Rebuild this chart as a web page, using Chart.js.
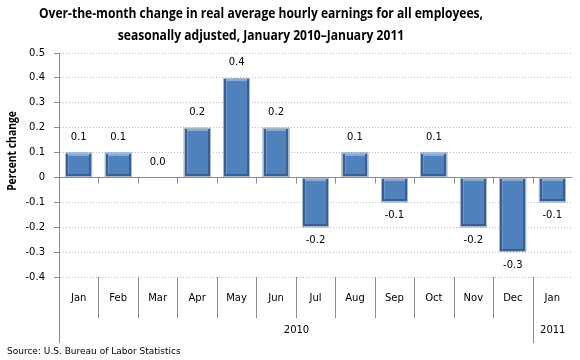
<!DOCTYPE html>
<html>
<head>
<meta charset="utf-8">
<script src="https://cdn.jsdelivr.net/npm/chart.js@4/dist/chart.umd.min.js"></script>
<style>
  body { margin: 0; background: #fff; }
  #wrap { width: 580px; height: 360px; }
</style>
</head>
<body>
<div id="wrap"><canvas id="earningsChart"></canvas></div>
<script>
const months = ['Jan', 'Feb', 'Mar', 'Apr', 'May', 'Jun', 'Jul', 'Aug', 'Sep', 'Oct', 'Nov', 'Dec', 'Jan'];
const years = [{ label: '2010', from: 0, to: 11 }, { label: '2011', from: 12, to: 12 }];
const changes = [0.1, 0.1, 0.0, 0.2, 0.4, 0.2, -0.2, 0.1, -0.1, 0.1, -0.2, -0.3, -0.1];
const titleLines = ['Over-the-month change in real average hourly earnings for all employees,', 'seasonally adjusted, January 2010\u2013January 2011'];
const sourceText = 'Source: U.S. Bureau of Labor Statistics';

const tickFont = { family: 'DejaVu Sans', size: 10 };

// draw text squeezed to a narrower face (the original uses Calibri)
function narrowText(ctx, text, cx, cy, squeeze) {
    ctx.save();
    ctx.translate(cx, cy);
    ctx.scale(squeeze, 1);
    ctx.fillText(text, 0, 0);
    ctx.restore();
}

// bevelled bar look
const bevel = {
    id: 'bevel',
    afterDatasetsDraw(chart) {
        const ctx = chart.ctx;
        chart.getDatasetMeta(0).data.forEach((bar, i) => {
            if (changes[i] === 0) return;
            const half = bar.width / 2;
            const l = Math.round(bar.x - half), r = Math.round(bar.x + half);
            const t = Math.round(Math.min(bar.y, bar.base)), b = Math.round(Math.max(bar.y, bar.base));
            ctx.save();
            ctx.lineWidth = 1;
            ctx.strokeStyle = '#a7b7cc';
            ctx.strokeRect(l + 0.5, t + 0.5, r - l - 1, b - t - 1);
            ctx.fillStyle = '#3b5f8f';
            ctx.fillRect(l + 1, t + 1, 2, b - t - 2);
            ctx.fillRect(r - 3, t + 1, 2, b - t - 2);
            ctx.fillRect(l + 1, b - 3, r - l - 2, 2);
            ctx.fillStyle = '#89abd8';
            ctx.fillRect(l + 3, t + 1, r - l - 6, 2);
            ctx.fillStyle = '#6f95c8';
            ctx.fillRect(l + 3, t + 3, 1, b - t - 6);
            ctx.restore();
        });
    }
};

// titles, zero line, category separators, year row, value labels
const decorations = {
    id: 'decorations',
    afterDraw(chart) {
        const ctx = chart.ctx;
        const x = chart.scales.x;
        const y = chart.scales.y;
        const area = chart.chartArea;
        const y0 = Math.round(y.getPixelForValue(0)) + 0.5;
        const step = x.getPixelForValue(1) - x.getPixelForValue(0);
        const edge = i => Math.round(x.getPixelForValue(i) - step / 2) + 0.5;

        ctx.save();
        // zero line + tick marks
        ctx.strokeStyle = '#8c8c8c';
        ctx.lineWidth = 1;
        ctx.beginPath();
        ctx.moveTo(area.left, y0);
        ctx.lineTo(area.right, y0);
        for (let i = 1; i < months.length; i++) {
            ctx.moveTo(edge(i), y0);
            ctx.lineTo(edge(i), y0 + 6);
        }
        ctx.stroke();

        // separators below plot
        ctx.beginPath();
        for (let i = 0; i < months.length; i++) {
            const yearStart = years.some(g => g.from === i);
            ctx.moveTo(edge(i), area.bottom);
            ctx.lineTo(edge(i), yearStart ? area.bottom + 66 : area.bottom + 41);
        }
        ctx.stroke();

        // year labels
        ctx.fillStyle = '#000';
        ctx.font = '10px "DejaVu Sans"';
        ctx.textAlign = 'center';
        ctx.textBaseline = 'middle';
        years.forEach(g => {
            const left = edge(g.from);
            const right = g.to + 1 < months.length ? edge(g.to + 1) : area.right;
            ctx.fillText(g.label, (left + right) / 2, area.bottom + 53);
        });

        // value labels
        chart.getDatasetMeta(0).data.forEach((bar, i) => {
            const v = changes[i];
            const ty = v < 0 ? bar.y + 13 : bar.y - 15;
            ctx.fillText(v.toFixed(1), bar.x, ty);
        });

        // chart title
        ctx.font = 'bold 14px "Open Sans"';
        const w = ctx.measureText(titleLines[0]).width;
        const squeeze = 444 / w;
        narrowText(ctx, titleLines[0], 261, 14, squeeze);
        narrowText(ctx, titleLines[1], 261, 36, squeeze);

        // y axis title
        ctx.save();
        ctx.translate(13, 151);
        ctx.rotate(-Math.PI / 2);
        ctx.font = 'bold 12px "Open Sans"';
        narrowText(ctx, 'Percent change', 0, 0, squeeze);
        ctx.restore();

        // source
        ctx.textAlign = 'left';
        ctx.font = '9px "DejaVu Sans"';
        ctx.fillText(sourceText, 7, 352);
        ctx.restore();
    }
};

new Chart(document.getElementById('earningsChart'), {
    type: 'bar',
    data: {
        labels: months,
        datasets: [{
            data: changes,
            backgroundColor: '#4F81BD',
            borderWidth: 0,
            categoryPercentage: 1,
            barPercentage: 0.68
        }]
    },
    options: {
        responsive: true,
        maintainAspectRatio: false,
        animation: false,
        layout: { padding: { left: 0, top: 53, right: 8, bottom: 0 } },
        plugins: {
            legend: { display: false },
            tooltip: { enabled: false }
        },
        scales: {
            x: {
                grid: { display: false, drawTicks: false },
                border: { display: false },
                ticks: { font: tickFont, color: '#000', padding: 15, maxRotation: 0, autoSkip: false },
                afterFit: scale => { scale.height = 83; }
            },
            y: {
                min: -0.4,
                max: 0.5,
                ticks: {
                    stepSize: 0.1,
                    font: tickFont,
                    color: '#000',
                    padding: 9,
                    callback: v => (Math.abs(v) < 1e-9 ? '0' : v.toFixed(1))
                },
                grid: { color: '#bdbdbd', tickLength: 5, tickColor: '#8c8c8c' },
                border: { display: true, color: '#8c8c8c', dash: [1, 2] },
                afterFit: scale => { scale.width = 59; }
            }
        }
    },
    plugins: [bevel, decorations]
});
</script>
</body>
</html>
